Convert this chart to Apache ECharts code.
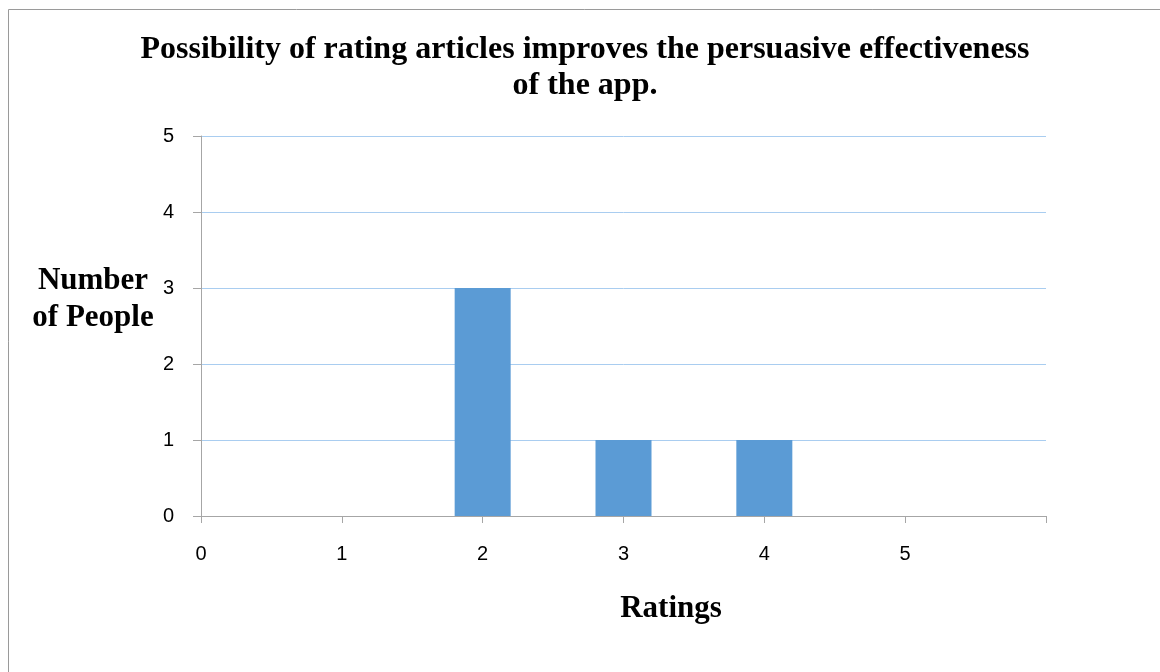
<!DOCTYPE html>
<html>
<head>
<meta charset="utf-8">
<script src="https://cdn.jsdelivr.net/npm/echarts@6/dist/echarts.min.js"></script>
<style>html,body{margin:0;padding:0;background:#fff;}#c{width:1160px;height:672px;}</style>
</head>
<body>
<div id="c"></div>
<script>
var titleText = 'Possibility of rating articles improves the persuasive effectiveness\nof the app.';
var xName = 'Ratings';
var yName = 'Number\nof People';
var ratings = [0, 1, 2, 3, 4, 5];
var counts = [0, 0, 3, 1, 1, 0];
var xMin = 0, xMax = 6, yMin = 0, yMax = 5;

var chart = echarts.init(document.getElementById('c'));
var serif = '"Liberation Serif","Times New Roman",serif';
var sans = '"Liberation Sans","DejaVu Sans",sans-serif';
chart.setOption({
  animation: false,
  backgroundColor: '#fff',
  graphic: [
    {type: 'rect', shape: {x: 8.5, y: 9.5, width: 1200, height: 700}, style: {fill: 'none', stroke: '#9a9a9a', lineWidth: 1}, silent: true},
    {type: 'text', x: 585, y: 68, style: {text: titleText, font: 'bold 32px ' + serif, fill: '#000', textAlign: 'center', textVerticalAlign: 'middle', lineHeight: 36}},
    {type: 'text', x: 93, y: 299, style: {text: yName, font: 'bold 31px ' + serif, fill: '#000', textAlign: 'center', textVerticalAlign: 'middle', lineHeight: 37}},
    {type: 'text', x: 671, y: 609, style: {text: xName, font: 'bold 31px ' + serif, fill: '#000', textAlign: 'center', textVerticalAlign: 'middle'}}
  ],
  grid: {left: 201, right: 114, top: 136, bottom: 156, containLabel: false},
  xAxis: {
    type: 'value', min: xMin, max: xMax, interval: 1,
    axisLine: {show: true, lineStyle: {color: '#a6a6a6', width: 1}},
    axisTick: {show: true, length: 7, lineStyle: {color: '#a6a6a6'}},
    axisLabel: {color: '#000', fontSize: 20, fontFamily: sans, margin: 28, formatter: function (v) { return v >= xMax ? '' : String(v); }},
    splitLine: {show: false}
  },
  yAxis: {
    type: 'value', min: yMin, max: yMax, interval: 1,
    axisLine: {show: true, lineStyle: {color: '#a6a6a6', width: 1}},
    axisTick: {show: true, length: 8, lineStyle: {color: '#a6a6a6'}},
    axisLabel: {color: '#000', fontSize: 20, fontFamily: sans, margin: 27},
    splitLine: {show: true, lineStyle: {color: '#a9cdf0', width: 1}}
  },
  series: [{
    type: 'bar',
    data: ratings.map(function (r, i) { return [r, counts[i]]; }),
    barWidth: 56,
    itemStyle: {color: '#5b9bd5'}
  }]
});
</script>
</body>
</html>
